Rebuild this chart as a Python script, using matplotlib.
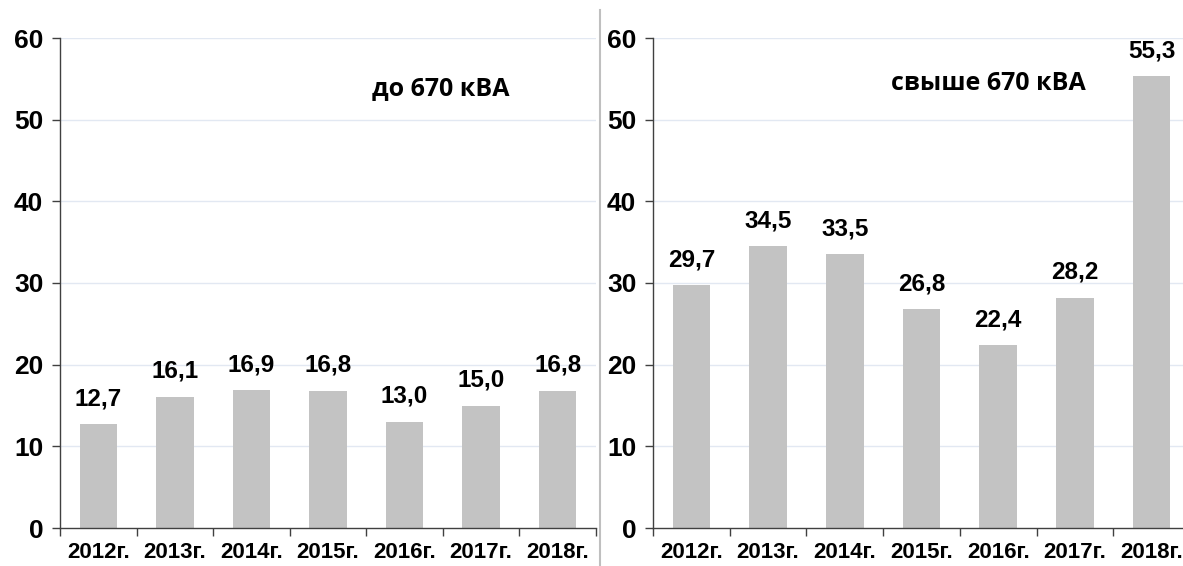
import matplotlib.pyplot as plt
import numpy as np

years = ['2012г.', '2013г.', '2014г.', '2015г.', '2016г.', '2017г.', '2018г.']
do_670 = [12.7, 16.1, 16.9, 16.8, 13.0, 15.0, 16.8]
svyshe_670 = [29.7, 34.5, 33.5, 26.8, 22.4, 28.2, 55.3]
titles = ['до 670 кВА', 'свыше 670 кВА']

plt.rcParams['font.family'] = ['Liberation Sans', 'DejaVu Sans']

fig = plt.figure(figsize=(11.83, 5.66), dpi=100)

# положение осей в долях фигуры
ax1 = fig.add_axes([60 / 1183, 38 / 566, 536 / 1183, 490 / 566])
ax2 = fig.add_axes([653 / 1183, 38 / 566, 537 / 1183, 490 / 566])

title_pos = [(0.711, 0.896), (0.624, 0.908)]

for ax, vals, title, tpos in zip([ax1, ax2], [do_670, svyshe_670], titles, title_pos):
    x = np.arange(len(years))
    ax.bar(x, vals, width=0.49, color='#c3c3c3', zorder=2)
    for xi, v in zip(x, vals):
        ax.annotate(f'{v:.1f}'.replace('.', ','), (xi, v), xytext=(0, 10),
                    textcoords='offset points', ha='center', va='bottom',
                    fontsize=17.5, fontweight='bold')
    ax.set_xlim(-0.5, 6.5)
    ax.set_ylim(0, 60)
    ax.set_yticks(range(0, 61, 10))
    ax.set_yticklabels([str(t) for t in range(0, 61, 10)], fontsize=19, fontweight='bold')
    ax.set_xticks(x)
    ax.set_xticklabels(years, fontsize=16, fontweight='bold')
    ax.set_xticks(np.arange(-0.5, 7, 1), minor=True)
    ax.tick_params(axis='x', which='major', length=0, pad=10)
    ax.tick_params(axis='x', which='minor', length=6, width=1, color='#404040')
    ax.tick_params(axis='y', length=6, width=1, color='#404040', pad=6)
    for t in range(10, 61, 10):
        ax.axhline(t, color='#e2e8f2', lw=1, zorder=1)
    for s in ['top', 'right']:
        ax.spines[s].set_visible(False)
    for s in ['left', 'bottom']:
        ax.spines[s].set_color('#404040')
        ax.spines[s].set_linewidth(1)
    ax.text(tpos[0], tpos[1], title, transform=ax.transAxes, ha='center', va='center',
            fontsize=18, fontweight='bold', family=['Open Sans', 'DejaVu Sans'])

# разделитель между графиками
fig.add_artist(plt.Line2D([600 / 1183, 600 / 1183], [0, 1 - 10 / 566],
                          transform=fig.transFigure, color='#bfbfbf', lw=1.5))

fig.savefig('out.png', dpi=100)
